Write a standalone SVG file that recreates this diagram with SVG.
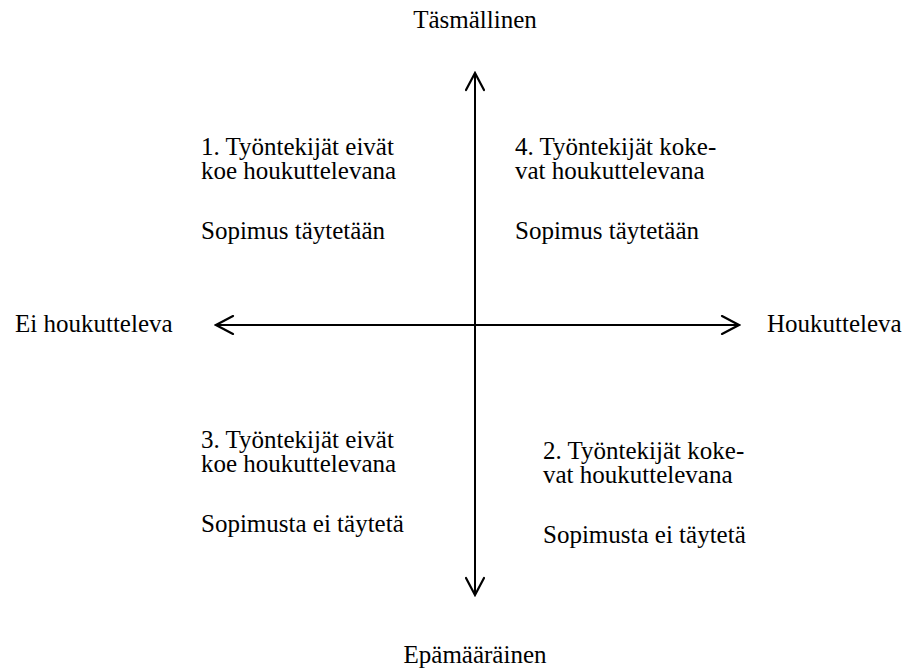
<svg xmlns="http://www.w3.org/2000/svg" width="903" height="669" viewBox="0 0 903 669">
  <style>
    text { font-family: "Liberation Serif", "Times New Roman", serif; font-size: 25px; fill: #000; }
    .axis { stroke: #000; stroke-width: 2; fill: none; }
    .head { stroke: #000; stroke-width: 2.2; fill: none; stroke-linecap: round; stroke-linejoin: miter; }
  </style>
  <defs>
    <marker id="open" viewBox="-20 -10 22 20" markerWidth="22" markerHeight="20" refX="0" refY="0" orient="auto-start-reverse" markerUnits="userSpaceOnUse">
      <path class="head" d="M-17,-9 L0,0 L-17,9"/>
    </marker>
  </defs>

  <!-- axes -->
  <g id="connectors">
    <line class="axis" x1="475" y1="595" x2="475" y2="73" marker-end="url(#open)" marker-start="url(#open)"/>
    <line class="axis" x1="216" y1="325" x2="739" y2="325" marker-end="url(#open)" marker-start="url(#open)"/>
  </g>

  <!-- axis labels -->
  <g id="label-top"><text x="475" y="28" text-anchor="middle">Täsmällinen</text></g>
  <g id="label-bottom"><text x="475" y="663" text-anchor="middle">Epämääräinen</text></g>
  <g id="label-left"><text x="15" y="332">Ei houkutteleva</text></g>
  <g id="label-right"><text x="767" y="332">Houkutteleva</text></g>

  <!-- quadrants -->
  <g id="q1">
    <text x="201" y="155">1. Työntekijät eivät</text>
    <text x="201" y="179">koe houkuttelevana</text>
    <text x="201" y="239">Sopimus täytetään</text>
  </g>
  <g id="q4">
    <text x="515" y="155">4. Työntekijät koke-</text>
    <text x="515" y="179">vat houkuttelevana</text>
    <text x="515" y="239">Sopimus täytetään</text>
  </g>
  <g id="q3">
    <text x="201" y="448">3. Työntekijät eivät</text>
    <text x="201" y="472">koe houkuttelevana</text>
    <text x="201" y="532">Sopimusta ei täytetä</text>
  </g>
  <g id="q2">
    <text x="543" y="459">2. Työntekijät koke-</text>
    <text x="543" y="483">vat houkuttelevana</text>
    <text x="543" y="543">Sopimusta ei täytetä</text>
  </g>
</svg>
